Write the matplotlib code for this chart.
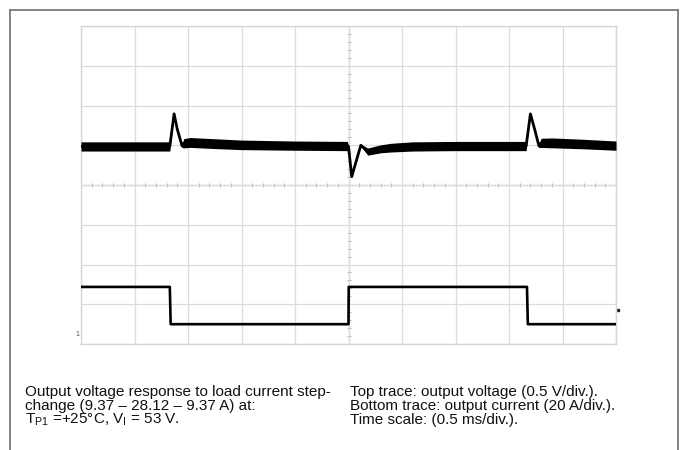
import numpy as np
import matplotlib
matplotlib.use("Agg")
import matplotlib.pyplot as plt
from matplotlib.lines import Line2D

# ---------------- data ----------------
# time axis: 0.5 ms/div, 10 divisions
time_ticks_ms = [0.0, 0.5, 1.0, 1.5, 2.0, 2.5, 3.0, 3.5, 4.0, 4.5, 5.0]

# top trace: output voltage deviation from nominal (V), 0.5 V/div
v_time_ms = [0.000, 0.830, 0.845, 0.870, 0.900, 0.945, 0.960, 1.020, 1.250, 1.500, 2.000, 2.490,
             2.500, 2.530, 2.615, 2.680, 2.800, 2.900, 3.100, 3.500, 4.000, 4.160,
             4.175, 4.200, 4.240, 4.280, 4.300, 4.400, 4.700, 5.000]
v_dev_V = [-0.005, -0.005, 0.15, 0.405, 0.21, 0.000, 0.035, 0.045, 0.030, 0.015, 0.005, 0.000,
           -0.005, -0.385, 0.010, -0.070, -0.035, -0.020, -0.005, 0.000, 0.000, 0.000,
           0.15, 0.405, 0.21, 0.000, 0.040, 0.040, 0.025, 0.005]
v_band_V = [0.058, 0.058, 0.012, 0.012, 0.012, 0.020, 0.058, 0.062, 0.062, 0.060, 0.058, 0.058,
            0.012, 0.012, 0.012, 0.045, 0.050, 0.055, 0.058, 0.058, 0.058, 0.058,
            0.012, 0.012, 0.012, 0.020, 0.058, 0.062, 0.060, 0.058]

# bottom trace: output current (A), 20 A/div
i_time_ms = [0.000, 0.830, 0.838, 2.500, 2.502, 4.168, 4.176, 5.000]
i_amp_A = [28.12, 28.12, 9.37, 9.37, 28.12, 28.12, 9.37, 9.37]

caption_left = ["Output voltage response to load current step-",
                "change (9.37 \u2013 28.12 \u2013 9.37 A) at:",
                "T$_{\\mathrm{P1}}$ =+25\u00b0C, V$_{\\mathrm{I}}$ = 53 V."]
caption_right = ["Top trace: output voltage (0.5 V/div.).",
                 "Bottom trace: output current (20 A/div.).",
                 "Time scale: (0.5 ms/div.)."]

# ---------------- styling / screen mapping ----------------
plt.rcParams['font.family'] = ['Liberation Sans', 'DejaVu Sans']
plt.rcParams['mathtext.fontset'] = 'custom'
plt.rcParams['mathtext.rm'] = 'Liberation Sans'
plt.rcParams['mathtext.it'] = 'Liberation Sans'

V_PER_DIV, V_ZERO_DIV = 0.5, 4.98
A_PER_DIV, A_ZERO_DIV = 20.0, 0.03

fig = plt.figure(figsize=(6.84, 4.50), dpi=100)
W, H = 684, 450
ax = fig.add_axes([81 / W, 1 - 344 / H, 535 / W, 318 / H])

ax.set_xlim(0, 5)
ax.set_ylim(0, 8)
ax.set_xticks(time_ticks_ms)
ax.set_yticks(range(9))
ax.tick_params(length=0, labelbottom=False, labelleft=False)
ax.grid(True, color='#dcdcdc', linewidth=0.9)
for s in ax.spines.values():
    s.set_color('#d6d6d6')
    s.set_linewidth(1.0)

# central cross-hair with minor ticks
ax.axvline(2.5, color='#c4c4c4', lw=0.9, zorder=1)
ax.axhline(4.0, color='#b8b8b8', lw=0.9, zorder=1)
minor_x = np.arange(0, 5.0001, 0.1)
minor_y = np.arange(0, 8.0001, 0.2)
ax.plot(minor_x, np.full_like(minor_x, 4.0), linestyle='none', marker='|',
        markersize=3.5, color='#b0b0b0', markeredgewidth=0.7, zorder=1)
ax.plot(np.full_like(minor_y, 2.5), minor_y, linestyle='none', marker='_',
        markersize=3.5, color='#b0b0b0', markeredgewidth=0.7, zorder=1)

# voltage trace (noise band + centre line)
vt = np.array(v_time_ms)
vy = V_ZERO_DIV + np.array(v_dev_V) / V_PER_DIV
vb = np.array(v_band_V) / V_PER_DIV
ax.fill_between(vt, vy - vb, vy + vb, color='black', linewidth=0, zorder=3)
ax.plot(vt, vy, color='black', lw=2.0, zorder=4, solid_joinstyle='round')

# current trace
it = np.array(i_time_ms)
iy = A_ZERO_DIV + np.array(i_amp_A) / A_PER_DIV
ax.plot(it, iy, color='black', lw=1.9, zorder=4)

# small channel markers
ax.text(-0.004, 0.02, "1", transform=ax.transAxes, fontsize=5, color='#555555',
        ha='right', va='bottom')
ax.plot([1.004], [0.107], marker='s', markersize=1.6, color='#222222',
        transform=ax.transAxes, clip_on=False)

# outer frame (open at bottom, cut by image edge)
frame_kw = dict(color='#7a7a7a', lw=1.3, transform=fig.transFigure)
fig.add_artist(Line2D([10 / W, 678 / W], [1 - 10 / H, 1 - 10 / H], **frame_kw))
fig.add_artist(Line2D([10 / W, 10 / W], [1 - 10 / H, 0], **frame_kw))
fig.add_artist(Line2D([678 / W, 678 / W], [1 - 10 / H, 0], **frame_kw))

# caption
baselines = [396, 410, 424]
for txt, yb in zip(caption_left, baselines):
    fig.text(25 / W, 1 - yb / H, txt, fontsize=11, va='baseline', ha='left', color='#111111')
for txt, yb in zip(caption_right, baselines):
    fig.text(350 / W, 1 - yb / H, txt, fontsize=11, va='baseline', ha='left', color='#111111')

fig.savefig("out.png", dpi=100)
